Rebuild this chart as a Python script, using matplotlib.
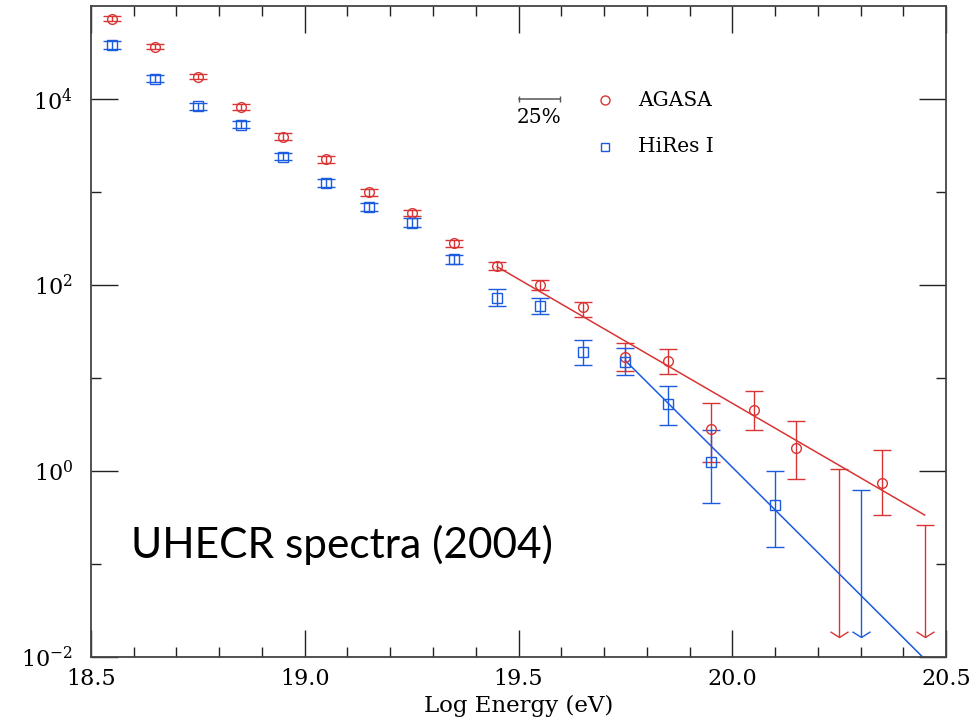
import numpy as np
import matplotlib
matplotlib.use("Agg")
import matplotlib.pyplot as plt
from matplotlib.path import Path
from matplotlib.ticker import FixedLocator, MultipleLocator, FuncFormatter

plt.rcParams['font.family'] = 'DejaVu Serif'
plt.rcParams['mathtext.fontset'] = 'dejavuserif'

# AGASA points (log10 of flux, with upper / lower error bar ends)
agasa_E = [18.55, 18.65, 18.75, 18.85, 18.95, 19.05, 19.15, 19.25, 19.35, 19.45,
           19.55, 19.65, 19.75, 19.85, 19.95, 20.05, 20.15, 20.35]
agasa_log = [4.867, 4.566, 4.243, 3.917, 3.598, 3.355, 3.000, 2.780, 2.452, 2.211,
             2.003, 1.763, 1.232, 1.186, 0.452, 0.659, 0.250, -0.129]
agasa_log_hi = [4.897, 4.596, 4.273, 3.952, 3.633, 3.390, 3.040, 2.810, 2.487, 2.254,
                2.057, 1.824, 1.376, 1.312, 0.731, 0.860, 0.538, 0.229]
agasa_log_lo = [4.837, 4.536, 4.213, 3.882, 3.563, 3.320, 2.960, 2.745, 2.410, 2.165,
                1.950, 1.662, 1.082, 1.046, 0.103, 0.444, -0.086, -0.470]
agasa_ul_E = [20.25, 20.45]
agasa_ul_log = [0.027, -0.580]

# HiRes I points
hires_E = [18.55, 18.65, 18.75, 18.85, 18.95, 19.05, 19.15, 19.25, 19.35, 19.45,
           19.55, 19.65, 19.75, 19.85, 19.95, 20.10]
hires_log = [4.584, 4.222, 3.925, 3.727, 3.383, 3.100, 2.845, 2.673, 2.280, 1.860,
             1.780, 1.280, 1.178, 0.720, 0.103, -0.359]
hires_log_hi = [4.624, 4.262, 3.965, 3.767, 3.423, 3.145, 2.890, 2.723, 2.330, 1.957,
                1.867, 1.412, 1.323, 0.917, 0.444, 0.006]
hires_log_lo = [4.544, 4.182, 3.885, 3.687, 3.343, 3.055, 2.800, 2.623, 2.230, 1.778,
                1.688, 1.143, 1.032, 0.501, -0.344, -0.817]
hires_ul_E = [20.30]
hires_ul_log = [-0.201]

arrow_tip_log = -1.78

# fitted power laws (end points)
agasa_fit_E = [19.45, 20.45]
agasa_fit_log = [2.20, -0.47]
hires_fit_E = [19.75, 20.446]
hires_fit_log = [1.19, -2.0]

scale_E = [19.5, 19.5 + np.log10(1.25)]

RED = '#d93434'
BLUE = '#1a5be0'


def draw_set(ax, E, lg, hi, lo, ul_E, ul_lg, color, marker, ms):
    f = 10 ** np.array(lg)
    fh = 10 ** np.array(hi)
    fl = 10 ** np.array(lo)
    ax.errorbar(E, f, yerr=[f - fl, fh - f], fmt=marker, mfc='none', mec=color,
                ecolor=color, ms=ms, mew=1.0, elinewidth=1.0, capsize=6.5,
                capthick=1.0, zorder=3)
    ul = 10 ** np.array(ul_lg)
    tip = np.full(len(ul_E), 10 ** arrow_tip_log)
    ax.vlines(ul_E, tip, ul, color=color, lw=1.0)
    ax.plot(ul_E, ul, ls='none', marker='_', ms=13, mew=1.0, color=color)
    # open "V" arrow head, tip at the marker position
    vee = Path([(-1, 0.63), (0, 0), (1, 0.63)])
    ax.plot(ul_E, tip, ls='none', marker=vee, ms=13, mew=1.0, mfc='none',
            mec=color)


fig = plt.figure(figsize=(9.72, 7.24), dpi=100)
ax = fig.add_axes([0.0936, 0.0921, 0.8797, 0.8992])
ax.set_yscale('log')
ax.set_xlim(18.5, 20.5)
ax.set_ylim(1e-2, 1e5)

draw_set(ax, agasa_E, agasa_log, agasa_log_hi, agasa_log_lo,
         agasa_ul_E, agasa_ul_log, RED, 'o', 7)
draw_set(ax, hires_E, hires_log, hires_log_hi, hires_log_lo,
         hires_ul_E, hires_ul_log, BLUE, 's', 6.5)

ax.plot(agasa_fit_E, 10 ** np.array(agasa_fit_log), color=RED, lw=1.1)
ax.plot(hires_fit_E, 10 ** np.array(hires_fit_log), color=BLUE, lw=1.1)

# legend and energy-scale bar
ax.plot([0.601], [0.856], 'o', transform=ax.transAxes, ms=6.5, mfc='none',
        mec=RED, mew=1.0)
ax.plot([0.601], [0.784], 's', transform=ax.transAxes, ms=6, mfc='none',
        mec=BLUE, mew=1.0)
ax.text(0.64, 0.856, 'AGASA', transform=ax.transAxes, va='center', ha='left',
        fontsize=14.5)
ax.text(0.64, 0.784, 'HiRes I', transform=ax.transAxes, va='center', ha='left',
        fontsize=14.5)
ax.plot(scale_E, [1e4, 1e4], color='#555555', lw=1.1, marker='|', ms=4, mew=1.0)
ax.text(np.mean(scale_E), 10 ** 3.8, '25%', ha='center', va='center',
        fontsize=14.5)

ax.text(0.2936, 0.1525, 'UHECR spectra (2004)', transform=ax.transAxes,
        ha='center', va='baseline', fontsize=30.5, family=['Lato', 'DejaVu Sans'])

# axes styling
ax.xaxis.set_major_locator(MultipleLocator(0.5))
ax.xaxis.set_minor_locator(MultipleLocator(0.1))
ax.xaxis.set_major_formatter(FuncFormatter(lambda v, p: '%.1f' % v))
ax.yaxis.set_major_locator(FixedLocator([1e-2, 1e0, 1e2, 1e4]))
ax.yaxis.set_minor_locator(FixedLocator([1e-1, 1e1, 1e3]))
ax.yaxis.set_major_formatter(FuncFormatter(
    lambda v, p: r'$10^{%d}$' % int(round(np.log10(v)))))
ax.yaxis.set_minor_formatter(FuncFormatter(lambda v, p: ''))
ax.tick_params(which='both', direction='in', top=True, right=True,
               color='#222222', width=1.0)
ax.tick_params(which='major', length=19.5)
ax.tick_params(which='minor', length=7)
ax.tick_params(axis='x', pad=8, labelsize=16)
ax.tick_params(axis='y', pad=13, labelsize=16)
for s in ax.spines.values():
    s.set_linewidth(1.3)
    s.set_color('#444444')

ax.set_xlabel('Log Energy (eV)', fontsize=16.5, labelpad=3)

fig.savefig('out.png', dpi=100)
